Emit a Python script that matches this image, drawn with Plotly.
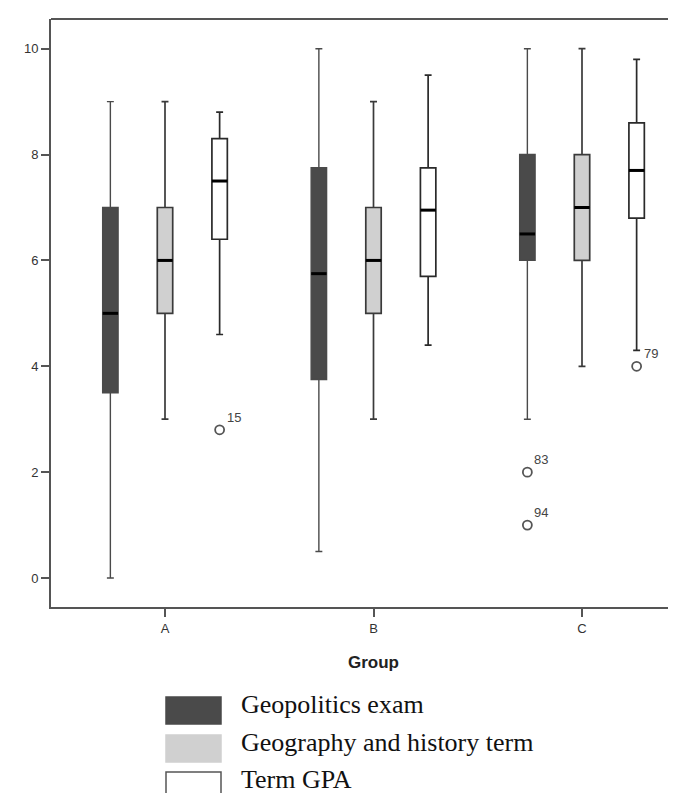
import plotly.graph_objects as go

# ---------------- data ----------------
groups = ["A", "B", "C"]
series_names = ["Geopolitics exam", "Geography and history term", "Term GPA"]

# per-series box statistics for groups A, B, C
geo_low = [0.0, 0.5, 3.0]
geo_q1 = [3.5, 3.75, 6.0]
geo_med = [5.0, 5.75, 6.5]
geo_q3 = [7.0, 7.75, 8.0]
geo_high = [9.0, 10.0, 10.0]

gh_low = [3.0, 3.0, 4.0]
gh_q1 = [5.0, 5.0, 6.0]
gh_med = [6.0, 6.0, 7.0]
gh_q3 = [7.0, 7.0, 8.0]
gh_high = [9.0, 9.0, 10.0]

gpa_low = [4.6, 4.4, 4.3]
gpa_q1 = [6.4, 5.7, 6.8]
gpa_med = [7.5, 6.95, 7.7]
gpa_q3 = [8.3, 7.75, 8.6]
gpa_high = [8.8, 9.5, 9.8]

# outliers: (group index, series index, value, case label)
outlier_group = [0, 2, 2, 2]
outlier_series = [2, 0, 0, 2]
outlier_value = [2.8, 2.0, 1.0, 4.0]
outlier_label = ["15", "83", "94", "79"]

y_ticks = [0, 2, 4, 6, 8, 10]

# ---------------- styling / layout ----------------
W, H = 676, 793
ML, MR, MT, MB = 43, 0, 11, 194
PW, PH = W - ML - MR, H - MT - MB

offsets = [-0.262, 0.0, 0.262]
box_w = 0.074
fills = ["#4a4a4a", "#d0d0d0", "#ffffff"]
edges = ["#4a4a4a", "#3a3a3a", "#2a2a2a"]
widths = [1.4, 1.7, 1.7]

stats = [
    (geo_low, geo_q1, geo_med, geo_q3, geo_high),
    (gh_low, gh_q1, gh_med, gh_q3, gh_high),
    (gpa_low, gpa_q1, gpa_med, gpa_q3, gpa_high),
]

fig = go.Figure()
gidx = list(range(len(groups)))
for s, (lo, q1, md, q3, hi) in enumerate(stats):
    xs = [g + offsets[s] for g in gidx]
    fig.add_trace(go.Box(
        x=xs, lowerfence=lo, q1=q1, median=md, q3=q3, upperfence=hi,
        width=box_w, whiskerwidth=0.45, boxpoints=False,
        fillcolor=fills[s], line=dict(color=edges[s], width=widths[s]),
        name=series_names[s], showlegend=False, hoverinfo="skip",
    ))
    # emphasised median bars
    for x, m in zip(xs, md):
        fig.add_trace(go.Scatter(
            x=[x - box_w / 2, x + box_w / 2], y=[m, m], mode="lines",
            line=dict(color="#000000", width=3), showlegend=False, hoverinfo="skip",
        ))

ox = [g + offsets[s] for g, s in zip(outlier_group, outlier_series)]
fig.add_trace(go.Scatter(
    x=ox, y=outlier_value, mode="markers",
    marker=dict(symbol="circle-open", size=9, color="#555555", line=dict(width=1.8)),
    showlegend=False, hoverinfo="skip",
))
for x, v, t in zip(ox, outlier_value, outlier_label):
    fig.add_annotation(x=x, y=v, text=t, showarrow=False, xanchor="left", yanchor="bottom",
                       xshift=5, yshift=3, font=dict(family="Liberation Sans", size=13, color="#444444"))

axis_color = "#555555"
fig.update_xaxes(
    range=[(ML - 157) / 208.5, (W - MR - 157) / 208.5],
    tickmode="array", tickvals=gidx, ticktext=groups,
    showline=True, linecolor=axis_color, linewidth=1.8,
    ticks="outside", ticklen=8, tickwidth=1.8, tickcolor=axis_color,
    showgrid=False, zeroline=False,
    tickfont=dict(family="Liberation Sans", size=13, color="#333333"),
)
fig.update_yaxes(
    range=[-(599 - 570) / 52.93, (570 - 11) / 52.93],
    tickmode="array", tickvals=y_ticks,
    showline=True, linecolor=axis_color, linewidth=1.8,
    ticks="outside", ticklen=8, tickwidth=1.8, tickcolor=axis_color,
    showgrid=False, zeroline=False,
    tickfont=dict(family="Liberation Sans", size=13, color="#333333"),
)

# top frame line (right edge is cut off in the reference)
fig.add_shape(type="line", xref="paper", yref="paper", x0=0, x1=1, y0=1, y1=1,
              line=dict(color=axis_color, width=1.8))

fig.add_annotation(x=1, xref="x", y=0, yref="paper", yanchor="top", yshift=-44,
                   text="<b>Group</b>", showarrow=False,
                   font=dict(family="Liberation Sans", size=17, color="#222222"))

# legend drawn manually
def px(xp):
    return (xp - ML) / PW

def py(yp):
    return (H - MB - yp) / PH

leg_top = [689, 727, 764]
for s, top in enumerate(leg_top):
    fig.add_shape(type="rect", xref="paper", yref="paper",
                  x0=px(158), x1=px(213), y0=py(top), y1=py(top + 27),
                  fillcolor=fills[s],
                  line=dict(color="#555555" if s == 2 else fills[s], width=1.5))
    fig.add_annotation(xref="paper", yref="paper", x=px(231), y=py(top + 7),
                       xanchor="left", yanchor="middle", showarrow=False,
                       text=series_names[s],
                       font=dict(family="Liberation Serif", size=26, color="#111111"))

fig.update_layout(
    width=W, height=H,
    margin=dict(l=ML, r=MR, t=MT, b=MB),
    plot_bgcolor="white", paper_bgcolor="white",
    showlegend=False,
)

fig.write_html("out.html")
